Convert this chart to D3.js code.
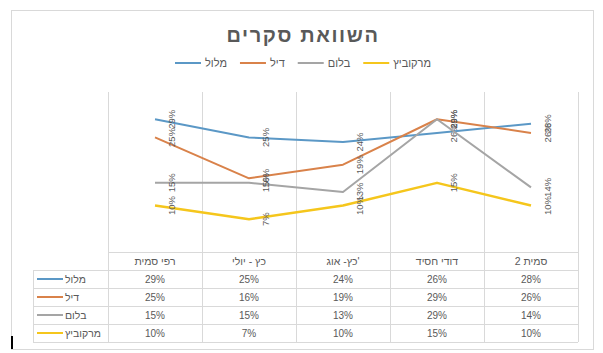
<!DOCTYPE html>
<html>
<head>
<meta charset="utf-8">
<script src="https://cdn.jsdelivr.net/npm/d3@7"></script>
<style>
  body { margin: 0; background: #fff; }
  text { font-family: "Liberation Sans", Arial, sans-serif; fill: #595959; }
</style>
</head>
<body>
<div id="chartWrapper"></div>
<script>
// chart data
var title = "השוואת סקרים";
var categories = ["רפי סמית", "כץ - יולי", "כץ- אוג'", "דודי חסיד", "סמית 2"];
var seriesNames = ["מלול", "דיל", "בלום", "מרקוביץ"];
var mlol = [0.29, 0.25, 0.24, 0.26, 0.28];
var dil = [0.25, 0.16, 0.19, 0.29, 0.26];
var blum = [0.15, 0.15, 0.13, 0.29, 0.14];
var markovich = [0.10, 0.07, 0.10, 0.15, 0.10];
var yMax = 0.35;

var seriesColors = ["#5b98c6", "#d9824a", "#a5a5a5", "#f5c61c"];

var chData = [mlol, dil, blum, markovich].map(function(vals, i){
  return {name: seriesNames[i], vals: vals, color: seriesColors[i]};
});

var canvasW = 603, canvasH = 353;
var plot = {left: 108, right: 578, top: 92, bottom: 251};
var table = {left: 33, top: 252, rowH: 18};
var LRM = "\u200E"; // keeps the apostrophe in the header on the right like excel does

var svg = d3.select('#chartWrapper')
  .append("svg")
  .attr("width", canvasW)
  .attr("height", canvasH);

// outer frame
svg.append("rect")
  .attr("x", 11.5).attr("y", 10.5)
  .attr("width", 582).attr("height", 339)
  .attr("fill", "none")
  .attr("stroke", "#d9d9d9");

// scales
var x = d3.scaleBand().domain(categories).range([plot.left, plot.right]);
var y = d3.scaleLinear().domain([0, yMax]).range([plot.bottom, plot.top]);
var fmt = d3.format(".0%");
var tableBottom = table.top + table.rowH * (seriesNames.length + 1);

// title
svg.append("text")
  .attr("x", 303).attr("y", 42)
  .attr("text-anchor", "middle")
  .style("font-size", "20px")
  .style("font-weight", "bold")
  .style("letter-spacing", "1.6px")
  .text(title);

// legend on top
var legend = svg.append("g").attr("class", "legend");
var lx = 0;
chData.forEach(function(s){
  var g = legend.append("g").attr("transform", "translate(" + lx + ",0)");
  g.append("line")
    .attr("x1", 0).attr("x2", 26).attr("y1", 63).attr("y2", 63)
    .attr("stroke", s.color).attr("stroke-width", 2);
  var t = g.append("text")
    .attr("x", 30).attr("y", 67)
    .style("font-size", "11px")
    .text(s.name);
  lx += 30 + t.node().getComputedTextLength() + 13;
});
legend.attr("transform", "translate(" + (303 - (lx - 13) / 2) + ",0)");

// gridlines (category separators, running down through the table)
var sepX = categories.map(function(c){ return x(c); }).concat([plot.right]);
svg.append("g").selectAll("line")
  .data(sepX)
  .enter().append("line")
  .attr("x1", function(d){ return d + 0.5; })
  .attr("x2", function(d){ return d + 0.5; })
  .attr("y1", plot.top)
  .attr("y2", tableBottom)
  .attr("stroke", "#d9d9d9");

// table horizontal rules
svg.append("line")
  .attr("x1", plot.left).attr("x2", plot.right)
  .attr("y1", table.top + 0.5).attr("y2", table.top + 0.5)
  .attr("stroke", "#d9d9d9");
svg.append("g").selectAll("line")
  .data(d3.range(1, seriesNames.length + 2))
  .enter().append("line")
  .attr("x1", table.left).attr("x2", plot.right)
  .attr("y1", function(i){ return table.top + i * table.rowH + 0.5; })
  .attr("y2", function(i){ return table.top + i * table.rowH + 0.5; })
  .attr("stroke", "#d9d9d9");
svg.append("line")
  .attr("x1", table.left + 0.5).attr("x2", table.left + 0.5)
  .attr("y1", table.top + table.rowH).attr("y2", tableBottom)
  .attr("stroke", "#d9d9d9");

// header row
svg.append("g").selectAll("text")
  .data(categories)
  .enter().append("text")
  .attr("x", function(d){ return x(d) + x.bandwidth() / 2; })
  .attr("y", table.top + table.rowH / 2 + 4)
  .attr("text-anchor", "middle")
  .style("font-size", "10.5px")
  .text(function(d){ return LRM + d + LRM; });

// series rows
var rows = svg.append("g").selectAll(".row")
  .data(chData)
  .enter().append("g")
  .attr("class", "row")
  .attr("transform", function(d, i){
    return "translate(0," + (table.top + (i + 1) * table.rowH) + ")";
  });

rows.append("line")
  .attr("x1", 37).attr("x2", 63)
  .attr("y1", table.rowH / 2).attr("y2", table.rowH / 2)
  .attr("stroke", function(d){ return d.color; })
  .attr("stroke-width", 2);

rows.append("text")
  .attr("x", 65).attr("y", table.rowH / 2 + 4)
  .style("font-size", "10.5px")
  .text(function(d){ return d.name; });

rows.selectAll(".cell")
  .data(function(d){ return d.vals; })
  .enter().append("text")
  .attr("class", "cell")
  .attr("x", function(d, i){ return x(categories[i]) + x.bandwidth() / 2; })
  .attr("y", table.rowH / 2 + 4)
  .attr("text-anchor", "middle")
  .style("font-size", "10px")
  .text(function(d){ return fmt(d); });

// lines
var line = d3.line()
  .x(function(d, i){ return x(categories[i]) + x.bandwidth() / 2; })
  .y(function(d){ return y(d); });

var lines = svg.append("g").selectAll(".s-line")
  .data(chData)
  .enter().append("g")
  .attr("class", "s-line");

lines.append("path")
  .attr("d", function(d){ return line(d.vals); })
  .attr("fill", "none")
  .attr("stroke", function(d){ return d.color; })
  .attr("stroke-width", function(d, i){ return i == 3 ? 2.5 : 2; })
  .attr("stroke-linejoin", "round");

// rotated data labels, right of each point
lines.selectAll(".lbl")
  .data(function(d){ return d.vals; })
  .enter().append("text")
  .attr("class", "lbl")
  .attr("transform", function(d, i){
    var px = x(categories[i]) + x.bandwidth() / 2 + 20;
    return "translate(" + px + "," + y(d) + ") rotate(-90)";
  })
  .attr("text-anchor", "middle")
  .style("font-size", "9.5px")
  .text(function(d){ return fmt(d); });

// text cursor left of the chart
svg.append("rect")
  .attr("x", 11).attr("y", 336)
  .attr("width", 2).attr("height", 13)
  .attr("fill", "#000");
</script>
</body>
</html>
